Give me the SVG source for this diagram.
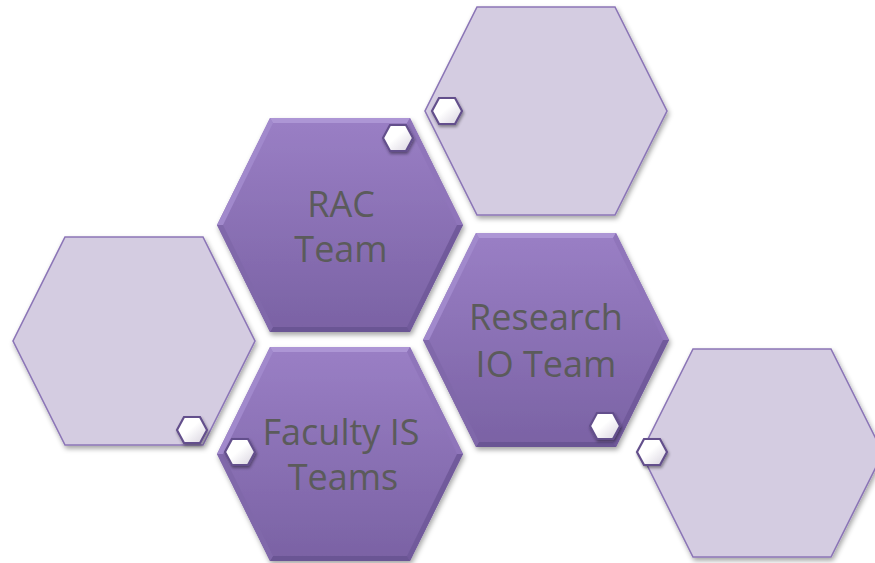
<svg xmlns="http://www.w3.org/2000/svg" xmlns:xlink="http://www.w3.org/1999/xlink" width="875" height="563" viewBox="0 0 875 563">
  <style>
    .label { font-family: "Open Sans", "Liberation Sans", sans-serif; font-size: 36px; fill: #5b5b5b; text-anchor: middle; }
    .light { fill: #d4cce1; stroke: #8c76b7; stroke-width: 1.6; }
    .pip { fill: url(#pipFill); stroke: #64508c; stroke-width: 2.2; }
  </style>
  <defs>
    <linearGradient id="darkFill" x1="0" y1="0" x2="0" y2="1">
      <stop offset="0" stop-color="#9a7fc5"/>
      <stop offset="1" stop-color="#7a62a4"/>
    </linearGradient>
    <linearGradient id="pipFill" x1="0" y1="0" x2="1" y2="1">
      <stop offset="0.45" stop-color="#ffffff"/>
      <stop offset="1" stop-color="#d6d1dd"/>
    </linearGradient>
    <filter id="shadow" x="-10%" y="-10%" width="120%" height="125%">
      <feDropShadow dx="1.5" dy="3" stdDeviation="2.5" flood-color="#000" flood-opacity="0.35"/>
    </filter>
    <filter id="pipShadow" x="-40%" y="-40%" width="180%" height="180%">
      <feDropShadow dx="1" dy="2" stdDeviation="1.5" flood-color="#000" flood-opacity="0.4"/>
    </filter>

    <!-- large bevelled hexagon, centred on the origin -->
    <g id="darkHex">
      <polygon points="-70,-107 70,-107 123,0 70,107 -70,107 -123,0" fill="url(#darkFill)"/>
      <!-- bevel facets between outer outline and inner face -->
      <polygon points="-70,-107 70,-107 67,-102 -67,-102" fill="#ad96d5"/>
      <polygon points="70,-107 123,0 117,0 67,-102" fill="#8f74ba"/>
      <polygon points="123,0 70,107 67,102 117,0" fill="#715a9b"/>
      <polygon points="70,107 -70,107 -67,102 67,102" fill="#6b5594"/>
      <polygon points="-70,107 -123,0 -117,0 -67,102" fill="#8068aa"/>
      <polygon points="-123,0 -70,-107 -67,-102 -117,0" fill="#a189cc"/>
    </g>

    <polygon id="lightHex" class="light" points="-69,-104 69,-104 121,0 69,104 -69,104 -121,0"/>

    <polygon id="pip" class="pip" points="-15,0 -8,-13 8,-13 15,0 8,13 -8,13"/>
  </defs>

  <!-- pale outer cells -->
  <g id="cell-top-right" filter="url(#shadow)">
    <use xlink:href="#lightHex" transform="translate(546,111)"/>
  </g>
  <g id="cell-left" filter="url(#shadow)">
    <use xlink:href="#lightHex" transform="translate(134,341)"/>
  </g>
  <g id="cell-bottom-right" filter="url(#shadow)">
    <use xlink:href="#lightHex" transform="translate(762,453)"/>
  </g>

  <!-- team cells -->
  <g id="rac-team">
    <use xlink:href="#darkHex" transform="translate(340,225)" filter="url(#shadow)"/>
    <text class="label" x="341" y="217">RAC</text>
    <text class="label" x="341" y="262">Team</text>
  </g>
  <g id="research-io-team">
    <use xlink:href="#darkHex" transform="translate(546,340)" filter="url(#shadow)"/>
    <text class="label" x="546" y="330">Research</text>
    <text class="label" x="546" y="377">IO Team</text>
  </g>
  <g id="faculty-is-teams">
    <use xlink:href="#darkHex" transform="translate(340,454)" filter="url(#shadow)"/>
    <text class="label" x="341" y="445">Faculty IS</text>
    <text class="label" x="343" y="490">Teams</text>
  </g>

  <!-- small white marker hexagons -->
  <g id="markers" filter="url(#pipShadow)">
    <use xlink:href="#pip" transform="translate(398,138)"/>
    <use xlink:href="#pip" transform="translate(447,111)"/>
    <use xlink:href="#pip" transform="translate(192,430)"/>
    <use xlink:href="#pip" transform="translate(240,452)"/>
    <use xlink:href="#pip" transform="translate(605,426)"/>
    <use xlink:href="#pip" transform="translate(652,452)"/>
  </g>
</svg>
